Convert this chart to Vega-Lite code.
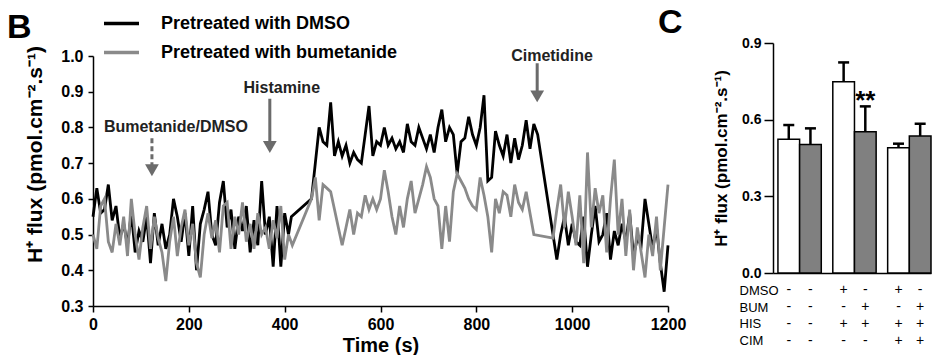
{
"$schema":"https://vega.github.io/schema/vega-lite/v6.json",
"padding":{"left":7,"top":4,"right":0,"bottom":0},
"config":{"font":"Liberation Sans","view":{"stroke":null},"axis":{"grid":false,"labelOverlap":false,"domainColor":"#000","tickColor":"#000","labelColor":"#000","titleColor":"#000","domainWidth":1.5,"tickWidth":1.5},"title":{"color":"#000"}},
"spacing":-28,
"hconcat":[
{
"width":575,"height":263,
"title":{"text":"B","anchor":"start","frame":"group","fontSize":34,"fontWeight":"bold","baseline":"alphabetic","offset":0,"dx":-86,"dy":29},
"data":{"values":[
{"t":0,"s":"D","v":0.55},{"t":8,"s":"D","v":0.63},{"t":16,"s":"D","v":0.56},{"t":24,"s":"D","v":0.57},{"t":32,"s":"D","v":0.64},{"t":40,"s":"D","v":0.54},{"t":48,"s":"D","v":0.58},{"t":56,"s":"D","v":0.49},{"t":64,"s":"D","v":0.53},{"t":72,"s":"D","v":0.47},{"t":80,"s":"D","v":0.56},{"t":88,"s":"D","v":0.45},{"t":96,"s":"D","v":0.51},{"t":104,"s":"D","v":0.48},{"t":112,"s":"D","v":0.55},{"t":120,"s":"D","v":0.42},{"t":128,"s":"D","v":0.56},{"t":136,"s":"D","v":0.47},{"t":144,"s":"D","v":0.53},{"t":152,"s":"D","v":0.46},{"t":160,"s":"D","v":0.50},{"t":168,"s":"D","v":0.60},{"t":176,"s":"D","v":0.55},{"t":184,"s":"D","v":0.48},{"t":192,"s":"D","v":0.56},{"t":200,"s":"D","v":0.44},{"t":208,"s":"D","v":0.58},{"t":216,"s":"D","v":0.40},{"t":224,"s":"D","v":0.53},{"t":232,"s":"D","v":0.57},{"t":240,"s":"D","v":0.62},{"t":248,"s":"D","v":0.50},{"t":256,"s":"D","v":0.47},{"t":264,"s":"D","v":0.59},{"t":272,"s":"D","v":0.65},{"t":280,"s":"D","v":0.52},{"t":288,"s":"D","v":0.57},{"t":296,"s":"D","v":0.46},{"t":304,"s":"D","v":0.55},{"t":312,"s":"D","v":0.51},{"t":320,"s":"D","v":0.58},{"t":328,"s":"D","v":0.45},{"t":336,"s":"D","v":0.54},{"t":344,"s":"D","v":0.47},{"t":352,"s":"D","v":0.65},{"t":360,"s":"D","v":0.50},{"t":368,"s":"D","v":0.55},{"t":376,"s":"D","v":0.41},{"t":384,"s":"D","v":0.58},{"t":392,"s":"D","v":0.41},{"t":400,"s":"D","v":0.56},{"t":408,"s":"D","v":0.50},{"t":414,"s":"D","v":0.55},{"t":456,"s":"D","v":0.60},{"t":464,"s":"D","v":0.70},{"t":472,"s":"D","v":0.80},{"t":480,"s":"D","v":0.76},{"t":488,"s":"D","v":0.75},{"t":496,"s":"D","v":0.87},{"t":504,"s":"D","v":0.72},{"t":512,"s":"D","v":0.76},{"t":520,"s":"D","v":0.72},{"t":528,"s":"D","v":0.75},{"t":536,"s":"D","v":0.70},{"t":544,"s":"D","v":0.73},{"t":552,"s":"D","v":0.71},{"t":560,"s":"D","v":0.70},{"t":568,"s":"D","v":0.78},{"t":576,"s":"D","v":0.86},{"t":584,"s":"D","v":0.72},{"t":592,"s":"D","v":0.76},{"t":600,"s":"D","v":0.75},{"t":608,"s":"D","v":0.80},{"t":616,"s":"D","v":0.75},{"t":624,"s":"D","v":0.77},{"t":632,"s":"D","v":0.74},{"t":640,"s":"D","v":0.76},{"t":648,"s":"D","v":0.73},{"t":656,"s":"D","v":0.81},{"t":664,"s":"D","v":0.76},{"t":672,"s":"D","v":0.75},{"t":680,"s":"D","v":0.80},{"t":688,"s":"D","v":0.77},{"t":696,"s":"D","v":0.74},{"t":704,"s":"D","v":0.78},{"t":712,"s":"D","v":0.73},{"t":720,"s":"D","v":0.80},{"t":728,"s":"D","v":0.85},{"t":736,"s":"D","v":0.76},{"t":744,"s":"D","v":0.80},{"t":752,"s":"D","v":0.78},{"t":760,"s":"D","v":0.67},{"t":768,"s":"D","v":0.76},{"t":776,"s":"D","v":0.77},{"t":784,"s":"D","v":0.83},{"t":792,"s":"D","v":0.78},{"t":800,"s":"D","v":0.75},{"t":808,"s":"D","v":0.80},{"t":816,"s":"D","v":0.89},{"t":824,"s":"D","v":0.65},{"t":832,"s":"D","v":0.66},{"t":840,"s":"D","v":0.79},{"t":848,"s":"D","v":0.75},{"t":856,"s":"D","v":0.72},{"t":864,"s":"D","v":0.78},{"t":872,"s":"D","v":0.70},{"t":880,"s":"D","v":0.77},{"t":888,"s":"D","v":0.71},{"t":896,"s":"D","v":0.75},{"t":904,"s":"D","v":0.82},{"t":912,"s":"D","v":0.74},{"t":920,"s":"D","v":0.81},{"t":928,"s":"D","v":0.78},{"t":968,"s":"D","v":0.43},{"t":976,"s":"D","v":0.50},{"t":984,"s":"D","v":0.55},{"t":992,"s":"D","v":0.47},{"t":1000,"s":"D","v":0.53},{"t":1008,"s":"D","v":0.48},{"t":1016,"s":"D","v":0.47},{"t":1024,"s":"D","v":0.55},{"t":1032,"s":"D","v":0.41},{"t":1040,"s":"D","v":0.50},{"t":1048,"s":"D","v":0.58},{"t":1056,"s":"D","v":0.48},{"t":1064,"s":"D","v":0.50},{"t":1072,"s":"D","v":0.56},{"t":1080,"s":"D","v":0.43},{"t":1088,"s":"D","v":0.51},{"t":1096,"s":"D","v":0.47},{"t":1104,"s":"D","v":0.53},{"t":1112,"s":"D","v":0.48},{"t":1120,"s":"D","v":0.56},{"t":1128,"s":"D","v":0.44},{"t":1136,"s":"D","v":0.49},{"t":1144,"s":"D","v":0.47},{"t":1152,"s":"D","v":0.60},{"t":1160,"s":"D","v":0.53},{"t":1168,"s":"D","v":0.46},{"t":1176,"s":"D","v":0.52},{"t":1184,"s":"D","v":0.42},{"t":1192,"s":"D","v":0.34},{"t":1200,"s":"D","v":0.47},
{"t":0,"s":"B","v":0.50},{"t":8,"s":"B","v":0.46},{"t":16,"s":"B","v":0.58},{"t":24,"s":"B","v":0.60},{"t":32,"s":"B","v":0.48},{"t":40,"s":"B","v":0.45},{"t":48,"s":"B","v":0.53},{"t":56,"s":"B","v":0.47},{"t":64,"s":"B","v":0.55},{"t":72,"s":"B","v":0.44},{"t":80,"s":"B","v":0.60},{"t":88,"s":"B","v":0.50},{"t":96,"s":"B","v":0.43},{"t":104,"s":"B","v":0.52},{"t":112,"s":"B","v":0.58},{"t":120,"s":"B","v":0.46},{"t":128,"s":"B","v":0.55},{"t":136,"s":"B","v":0.49},{"t":144,"s":"B","v":0.45},{"t":152,"s":"B","v":0.37},{"t":160,"s":"B","v":0.48},{"t":168,"s":"B","v":0.55},{"t":176,"s":"B","v":0.44},{"t":184,"s":"B","v":0.52},{"t":192,"s":"B","v":0.57},{"t":200,"s":"B","v":0.47},{"t":208,"s":"B","v":0.53},{"t":216,"s":"B","v":0.42},{"t":224,"s":"B","v":0.38},{"t":232,"s":"B","v":0.50},{"t":240,"s":"B","v":0.56},{"t":248,"s":"B","v":0.49},{"t":256,"s":"B","v":0.54},{"t":264,"s":"B","v":0.45},{"t":272,"s":"B","v":0.58},{"t":280,"s":"B","v":0.59},{"t":288,"s":"B","v":0.46},{"t":296,"s":"B","v":0.55},{"t":304,"s":"B","v":0.50},{"t":312,"s":"B","v":0.59},{"t":320,"s":"B","v":0.48},{"t":328,"s":"B","v":0.53},{"t":336,"s":"B","v":0.46},{"t":344,"s":"B","v":0.56},{"t":352,"s":"B","v":0.50},{"t":360,"s":"B","v":0.52},{"t":368,"s":"B","v":0.46},{"t":376,"s":"B","v":0.54},{"t":384,"s":"B","v":0.49},{"t":392,"s":"B","v":0.58},{"t":400,"s":"B","v":0.43},{"t":408,"s":"B","v":0.50},{"t":416,"s":"B","v":0.47},{"t":456,"s":"B","v":0.60},{"t":464,"s":"B","v":0.66},{"t":472,"s":"B","v":0.54},{"t":480,"s":"B","v":0.64},{"t":488,"s":"B","v":0.63},{"t":496,"s":"B","v":0.62},{"t":504,"s":"B","v":0.57},{"t":512,"s":"B","v":0.52},{"t":520,"s":"B","v":0.47},{"t":528,"s":"B","v":0.52},{"t":536,"s":"B","v":0.57},{"t":544,"s":"B","v":0.50},{"t":552,"s":"B","v":0.56},{"t":560,"s":"B","v":0.55},{"t":568,"s":"B","v":0.61},{"t":576,"s":"B","v":0.57},{"t":584,"s":"B","v":0.60},{"t":592,"s":"B","v":0.57},{"t":600,"s":"B","v":0.60},{"t":608,"s":"B","v":0.68},{"t":616,"s":"B","v":0.62},{"t":624,"s":"B","v":0.55},{"t":632,"s":"B","v":0.50},{"t":640,"s":"B","v":0.58},{"t":648,"s":"B","v":0.52},{"t":656,"s":"B","v":0.60},{"t":664,"s":"B","v":0.65},{"t":672,"s":"B","v":0.56},{"t":680,"s":"B","v":0.60},{"t":688,"s":"B","v":0.64},{"t":696,"s":"B","v":0.69},{"t":704,"s":"B","v":0.66},{"t":712,"s":"B","v":0.60},{"t":720,"s":"B","v":0.58},{"t":728,"s":"B","v":0.46},{"t":736,"s":"B","v":0.58},{"t":744,"s":"B","v":0.48},{"t":752,"s":"B","v":0.62},{"t":760,"s":"B","v":0.67},{"t":768,"s":"B","v":0.65},{"t":776,"s":"B","v":0.63},{"t":784,"s":"B","v":0.60},{"t":792,"s":"B","v":0.58},{"t":800,"s":"B","v":0.57},{"t":808,"s":"B","v":0.66},{"t":816,"s":"B","v":0.61},{"t":824,"s":"B","v":0.55},{"t":832,"s":"B","v":0.45},{"t":840,"s":"B","v":0.60},{"t":848,"s":"B","v":0.56},{"t":856,"s":"B","v":0.62},{"t":864,"s":"B","v":0.61},{"t":872,"s":"B","v":0.55},{"t":880,"s":"B","v":0.64},{"t":888,"s":"B","v":0.59},{"t":896,"s":"B","v":0.57},{"t":904,"s":"B","v":0.62},{"t":912,"s":"B","v":0.56},{"t":920,"s":"B","v":0.50},{"t":960,"s":"B","v":0.49},{"t":968,"s":"B","v":0.57},{"t":976,"s":"B","v":0.64},{"t":984,"s":"B","v":0.52},{"t":992,"s":"B","v":0.62},{"t":1000,"s":"B","v":0.55},{"t":1008,"s":"B","v":0.47},{"t":1016,"s":"B","v":0.61},{"t":1024,"s":"B","v":0.42},{"t":1032,"s":"B","v":0.73},{"t":1040,"s":"B","v":0.52},{"t":1048,"s":"B","v":0.63},{"t":1056,"s":"B","v":0.56},{"t":1064,"s":"B","v":0.61},{"t":1072,"s":"B","v":0.45},{"t":1080,"s":"B","v":0.60},{"t":1088,"s":"B","v":0.71},{"t":1096,"s":"B","v":0.50},{"t":1104,"s":"B","v":0.60},{"t":1112,"s":"B","v":0.44},{"t":1120,"s":"B","v":0.57},{"t":1128,"s":"B","v":0.40},{"t":1136,"s":"B","v":0.52},{"t":1144,"s":"B","v":0.45},{"t":1152,"s":"B","v":0.38},{"t":1160,"s":"B","v":0.50},{"t":1168,"s":"B","v":0.44},{"t":1176,"s":"B","v":0.55},{"t":1184,"s":"B","v":0.40},{"t":1192,"s":"B","v":0.52},{"t":1200,"s":"B","v":0.64},
{"k":"r","t":123,"v":0.77,"v2":0.68,"dash":"d"},
{"k":"r","t":369,"v":0.88,"v2":0.745,"dash":"s"},
{"k":"r","t":927,"v":0.98,"v2":0.887,"dash":"s"},
{"k":"h","t":123,"v":0.68},{"k":"h","t":369,"v":0.745},{"k":"h","t":927,"v":0.887},
{"k":"x","t":173,"v":0.80,"label":"Bumetanide/DMSO"},
{"k":"x","t":394,"v":0.91,"label":"Histamine"},
{"k":"x","t":958,"v":1.0,"label":"Cimetidine"}
]},
"layer":[
{"transform":[{"filter":"isValid(datum.s)"}],
"mark":{"type":"line","strokeWidth":2.8},
"encoding":{
"x":{"field":"t","type":"quantitative","title":"Time (s)","scale":{"domain":[0,1200],"nice":false},"axis":{"values":[0,200,400,600,800,1000,1200],"format":"d","labelFlush":false,"labelOverlap":false,"labelFontSize":16,"labelFontWeight":"bold","titleFontSize":20,"titleFontWeight":"bold","tickSize":6,"labelPadding":4,"titlePadding":3}},
"y":{"field":"v","type":"quantitative","title":"H⁺ flux (pmol.cm⁻².s⁻¹)","scale":{"domain":[0.3,1.0],"range":[263,13],"nice":false,"zero":false},"axis":{"values":[0.3,0.4,0.5,0.6,0.7,0.8,0.9,1.0],"format":".1f","labelOverlap":false,"labelFlush":false,"labelFontSize":16,"labelFontWeight":"bold","titleFontSize":21,"titleFontWeight":"bold","tickSize":5,"labelPadding":5,"titlePadding":15,"titleY":111}},
"color":{"field":"s","type":"nominal","scale":{"domain":["D","B"],"range":["#000000","#8a8a8a"]},"legend":{"orient":"none","legendX":9,"legendY":-39,"title":null,"padding":0,"symbolType":"stroke","symbolSize":1225,"symbolStrokeWidth":3.5,"labelFontSize":18,"labelFontWeight":"bold","labelColor":"#000","labelOffset":20,"labelLimit":400,"rowPadding":-9,"labelExpr":"datum.label == 'D' ? 'Pretreated with DMSO' : 'Pretreated with bumetanide'"}}
}},
{"transform":[{"filter":"datum.k == 'r'"}],
"mark":{"type":"rule","strokeWidth":3,"color":"#6b6b6b"},
"encoding":{
"x":{"field":"t","type":"quantitative","title":"Time (s)","scale":{"domain":[0,1200],"nice":false},"axis":{"values":[0,200,400,600,800,1000,1200],"format":"d","labelFlush":false,"labelOverlap":false,"labelFontSize":16,"labelFontWeight":"bold","titleFontSize":20,"titleFontWeight":"bold","tickSize":6,"labelPadding":4,"titlePadding":3}},
"y":{"field":"v","type":"quantitative","title":"H⁺ flux (pmol.cm⁻².s⁻¹)","scale":{"domain":[0.3,1.0],"range":[263,13],"nice":false,"zero":false},"axis":{"values":[0.3,0.4,0.5,0.6,0.7,0.8,0.9,1.0],"format":".1f","labelOverlap":false,"labelFlush":false,"labelFontSize":16,"labelFontWeight":"bold","titleFontSize":21,"titleFontWeight":"bold","tickSize":5,"labelPadding":5,"titlePadding":15,"titleY":111}},
"y2":{"field":"v2"},
"strokeDash":{"field":"dash","type":"nominal","scale":{"domain":["s","d"],"range":[[1,0],[5,3]]},"legend":null}
}},
{"transform":[{"filter":"datum.k == 'h'"}],
"mark":{"type":"point","shape":"triangle-down","filled":true,"size":190,"color":"#6b6b6b","opacity":1},
"encoding":{
"x":{"field":"t","type":"quantitative","title":"Time (s)","scale":{"domain":[0,1200],"nice":false},"axis":{"values":[0,200,400,600,800,1000,1200],"format":"d","labelFlush":false,"labelOverlap":false,"labelFontSize":16,"labelFontWeight":"bold","titleFontSize":20,"titleFontWeight":"bold","tickSize":6,"labelPadding":4,"titlePadding":3}},
"y":{"field":"v","type":"quantitative","title":"H⁺ flux (pmol.cm⁻².s⁻¹)","scale":{"domain":[0.3,1.0],"range":[263,13],"nice":false,"zero":false},"axis":{"values":[0.3,0.4,0.5,0.6,0.7,0.8,0.9,1.0],"format":".1f","labelOverlap":false,"labelFlush":false,"labelFontSize":16,"labelFontWeight":"bold","titleFontSize":21,"titleFontWeight":"bold","tickSize":5,"labelPadding":5,"titlePadding":15,"titleY":111}}
}},
{"transform":[{"filter":"datum.k == 'x'"}],
"mark":{"type":"text","fontSize":16,"fontWeight":"bold","color":"#222"},
"encoding":{
"x":{"field":"t","type":"quantitative","title":"Time (s)","scale":{"domain":[0,1200],"nice":false},"axis":{"values":[0,200,400,600,800,1000,1200],"format":"d","labelFlush":false,"labelOverlap":false,"labelFontSize":16,"labelFontWeight":"bold","titleFontSize":20,"titleFontWeight":"bold","tickSize":6,"labelPadding":4,"titlePadding":3}},
"y":{"field":"v","type":"quantitative","title":"H⁺ flux (pmol.cm⁻².s⁻¹)","scale":{"domain":[0.3,1.0],"range":[263,13],"nice":false,"zero":false},"axis":{"values":[0.3,0.4,0.5,0.6,0.7,0.8,0.9,1.0],"format":".1f","labelOverlap":false,"labelFlush":false,"labelFontSize":16,"labelFontWeight":"bold","titleFontSize":21,"titleFontWeight":"bold","tickSize":5,"labelPadding":5,"titlePadding":15,"titleY":111}},
"text":{"field":"label"}
}}
]
},
{
"title":{"text":"C","anchor":"start","frame":"group","fontSize":34,"fontWeight":"bold","baseline":"alphabetic","offset":0,"dx":-115,"dy":31},
"spacing":2,
"vconcat":[
{
"width":158,"height":230,
"data":{"values":[
{"pair":"p1","trt":"w","v":0.523,"hi":0.579},
{"pair":"p1","trt":"g","v":0.503,"hi":0.566},
{"pair":"p2","trt":"w","v":0.748,"hi":0.824},
{"pair":"p2","trt":"g","v":0.553,"hi":0.652,"sig":"**","sy":0.675},
{"pair":"p3","trt":"w","v":0.490,"hi":0.506},
{"pair":"p3","trt":"g","v":0.536,"hi":0.584}
]},
"layer":[
{"mark":{"type":"bar","stroke":"#000","strokeWidth":1.5},
"encoding":{
"x":{"field":"pair","type":"nominal","scale":{"type":"band","paddingInner":0.21,"paddingOuter":0.045,"align":1},"axis":{"labels":false,"ticks":false,"title":null}},
"xOffset":{"field":"trt","type":"nominal","scale":{"domain":["w","g"],"paddingInner":0,"paddingOuter":0}},
"y":{"field":"v","type":"quantitative","title":"H⁺ flux (pmol.cm⁻².s⁻¹)","scale":{"domain":[0,0.9],"nice":false},"axis":{"values":[0,0.3,0.6,0.9],"format":".1f","labelOverlap":false,"labelFontSize":14,"labelFontWeight":"bold","titleFontSize":17,"titleFontWeight":"bold","tickSize":9,"labelPadding":3,"titlePadding":11}},
"fill":{"field":"trt","type":"nominal","scale":{"domain":["w","g"],"range":["#ffffff","#808080"]},"legend":null}
}},
{"mark":{"type":"rule","strokeWidth":2.5,"color":"#000"},
"encoding":{
"x":{"field":"pair","type":"nominal"},
"xOffset":{"field":"trt","type":"nominal"},
"y":{"field":"v","type":"quantitative","title":"H⁺ flux (pmol.cm⁻².s⁻¹)"},
"y2":{"field":"hi"}
}},
{"mark":{"type":"point","shape":"stroke","size":121,"strokeWidth":2.5,"color":"#000","opacity":1},
"encoding":{
"x":{"field":"pair","type":"nominal"},
"xOffset":{"field":"trt","type":"nominal"},
"y":{"field":"hi","type":"quantitative","title":"H⁺ flux (pmol.cm⁻².s⁻¹)"}
}},
{"transform":[{"filter":"isValid(datum.sig)"}],
"mark":{"type":"text","fontSize":26,"fontWeight":"bold","baseline":"middle","color":"#000"},
"encoding":{
"x":{"field":"pair","type":"nominal"},
"xOffset":{"field":"trt","type":"nominal"},
"y":{"field":"sy","type":"quantitative","title":"H⁺ flux (pmol.cm⁻².s⁻¹)"},
"text":{"field":"sig"}
}}
]
},
{
"width":158,"height":67,
"data":{"values":[
{"pair":"p1","trt":"w","row":"DMSO","sym":"-"},{"pair":"p1","trt":"g","row":"DMSO","sym":"-"},{"pair":"p2","trt":"w","row":"DMSO","sym":"+"},{"pair":"p2","trt":"g","row":"DMSO","sym":"-"},{"pair":"p3","trt":"w","row":"DMSO","sym":"+"},{"pair":"p3","trt":"g","row":"DMSO","sym":"-"},
{"pair":"p1","trt":"w","row":"BUM","sym":"-"},{"pair":"p1","trt":"g","row":"BUM","sym":"-"},{"pair":"p2","trt":"w","row":"BUM","sym":"-"},{"pair":"p2","trt":"g","row":"BUM","sym":"+"},{"pair":"p3","trt":"w","row":"BUM","sym":"-"},{"pair":"p3","trt":"g","row":"BUM","sym":"+"},
{"pair":"p1","trt":"w","row":"HIS","sym":"-"},{"pair":"p1","trt":"g","row":"HIS","sym":"-"},{"pair":"p2","trt":"w","row":"HIS","sym":"+"},{"pair":"p2","trt":"g","row":"HIS","sym":"+"},{"pair":"p3","trt":"w","row":"HIS","sym":"+"},{"pair":"p3","trt":"g","row":"HIS","sym":"+"},
{"pair":"p1","trt":"w","row":"CIM","sym":"-"},{"pair":"p1","trt":"g","row":"CIM","sym":"-"},{"pair":"p2","trt":"w","row":"CIM","sym":"-"},{"pair":"p2","trt":"g","row":"CIM","sym":"-"},{"pair":"p3","trt":"w","row":"CIM","sym":"+"},{"pair":"p3","trt":"g","row":"CIM","sym":"+"}
]},
"mark":{"type":"text","fontSize":14,"color":"#000"},
"encoding":{
"x":{"field":"pair","type":"nominal","scale":{"type":"band","paddingInner":0.21,"paddingOuter":0.045,"align":1},"axis":null},
"xOffset":{"field":"trt","type":"nominal","scale":{"domain":["w","g"],"paddingInner":0,"paddingOuter":0}},
"y":{"field":"row","type":"nominal","sort":["DMSO","BUM","HIS","CIM"],"scale":{"type":"point","padding":0.5},"axis":{"title":null,"domain":false,"ticks":false,"tickSize":0,"labelAlign":"left","labelPadding":34,"labelFontSize":13,"labelFontWeight":"normal","labelColor":"#000"}},
"text":{"field":"sym"}
}
}
]
}
]
}
